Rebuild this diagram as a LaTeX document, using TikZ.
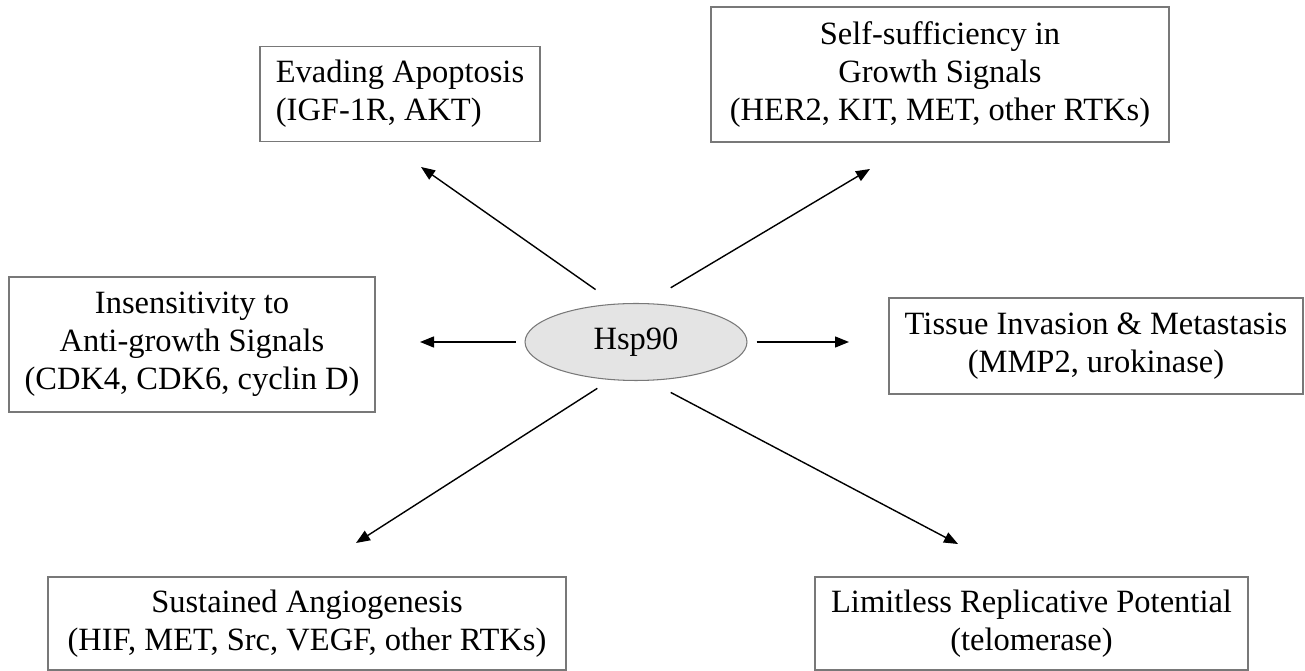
\documentclass[tikz,border=0pt]{standalone}
\usepackage{fontspec}
\setmainfont{Liberation Serif}
\usepackage{tikz}
\usetikzlibrary{arrows.meta,shapes.geometric}
\usepackage{xcolor}
\definecolor{boxgray}{RGB}{120,120,120}
\definecolor{hspfill}{RGB}{228,228,228}
\tikzset{
  box/.style={rectangle, draw=boxgray, line width=0.7pt, fill=white, align=center,
              font=\fontsize{18.5}{21.6}\selectfont, inner sep=2pt, outer sep=0pt},
  boxleft/.style={box, align=left},
  hub/.style={ellipse, draw=boxgray, line width=0.6pt, fill=hspfill, inner sep=0pt,
              minimum width=4.44cm, minimum height=1.54cm, font=\fontsize{18.5}{21.6}\selectfont},
  arrow/.style={-{Triangle[length=2.8mm, width=2.2mm]}, line width=0.8pt, black},
}
\begin{document}
\begin{tikzpicture}[x=0.02cm, y=-0.02cm]
\useasboundingbox (0,0) rectangle (1305,671);
\node[hub] (hsp) at (636,342) {Hsp90};
\node[boxleft, minimum width=5.6cm, minimum height=1.9cm] (apop) at (400,94)
  {Evading Apoptosis\\(IGF-1R, AKT)};
\node[box, minimum width=9.16cm, minimum height=2.7cm] (growth) at (940,74.5)
  {Self-sufficiency in\\Growth Signals\\(HER2, KIT, MET, other RTKs)};
\node[box, minimum width=7.32cm, minimum height=2.7cm] (insens) at (192,344.5)
  {Insensitivity to\\Anti-growth Signals\\(CDK4, CDK6, cyclin D)};
\node[box, minimum width=8.28cm, minimum height=1.92cm] (invade) at (1096,346)
  {Tissue Invasion \& Metastasis\\(MMP2, urokinase)};
\node[box, minimum width=10.36cm, minimum height=1.86cm] (angio) at (307,623.5)
  {Sustained Angiogenesis\\(HIF, MET, Src, VEGF, other RTKs)};
\node[box, minimum width=8.66cm, minimum height=1.86cm] (replic) at (1031.5,623.5)
  {Limitless Replicative Potential\\(telomerase)};
% arrow ends, short of the boxes
\coordinate (apopTip) at (421,167);
\coordinate (growthTip) at (870,169);
\coordinate (insensTip) at (420,342);
\coordinate (invadeTip) at (849,342);
\coordinate (angioTip) at (356,543);
\coordinate (replicTip) at (958,544);
\foreach \a/\t/\s in {118/apopTip/0.49cm, 77/growthTip/0.6cm, 180/insensTip/0.18cm,
                      0/invadeTip/0.18cm, 236.5/angioTip/0.31cm, 288.6/replicTip/0.5cm}
  \draw[arrow, shorten <=\s] (hsp.\a) -- (\t);
\end{tikzpicture}
\end{document}
